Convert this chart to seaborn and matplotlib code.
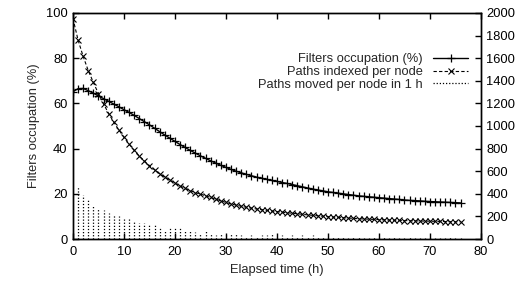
import numpy as np
import pandas as pd
import matplotlib
matplotlib.use("Agg")
import matplotlib.pyplot as plt
import seaborn as sns

# elapsed time in hours, one sample per hour
hours = list(range(0, 77))

# filters occupation (%), left axis
filters_occupation = [
    65.2, 66.5, 66.6, 65.6, 64.5, 63.3, 62.1, 60.9, 59.7, 58.5,
    57.2, 56.0, 54.7, 53.3, 51.9, 50.5, 49.0, 47.5, 46.0, 44.6,
    43.2, 41.8, 40.5, 39.2, 38.0, 36.8, 35.7, 34.6, 33.6, 32.6,
    31.7, 30.8, 30.0, 29.3, 28.6, 28.0, 27.4, 26.9, 26.4, 25.9,
    25.5, 25.0, 24.6, 24.1, 23.6, 23.1, 22.6, 22.1, 21.7, 21.3,
    20.9, 20.6, 20.3, 20.0, 19.7, 19.4, 19.1, 18.9, 18.7, 18.5,
    18.3, 18.1, 17.9, 17.7, 17.5, 17.3, 17.1, 17.0, 16.9, 16.7,
    16.6, 16.5, 16.4, 16.3, 16.2, 16.1, 16.0,
]

# paths indexed per node, right axis
paths_indexed = [
    1950, 1760, 1615, 1490, 1385, 1285, 1195, 1110, 1035, 965,
    900, 840, 785, 735, 690, 650, 612, 578, 548, 520,
    494, 470, 448, 428, 410, 398, 383, 368, 353, 338,
    324, 311, 300, 290, 281, 273, 266, 260, 254, 248,
    243, 238, 233, 228, 224, 219, 214, 210, 206, 202,
    198, 195, 192, 189, 186, 183, 180, 178, 176, 174,
    172, 170, 168, 167, 165, 164, 162, 161, 160, 159,
    158, 157, 156, 155, 154, 153, 152,
]

# paths moved per node in 1 h (impulses), right axis
moved_hours = list(range(1, 77))
paths_moved = [
    465, 390, 345, 300, 272, 256, 234, 220, 204, 182,
    180, 154, 138, 138, 134, 124, 104, 80, 94, 96,
    94, 80, 80, 64, 56, 72, 56, 40, 52, 36,
    44, 48, 40, 28, 36, 20, 32, 40, 44, 24,
    36, 20, 32, 28, 36, 24, 32, 20, 16, 24,
    20, 16, 28, 12, 20, 16, 12, 8, 20, 12,
    16, 8, 16, 12, 8, 20, 12, 8, 12, 16,
    8, 12, 8, 16, 12, 8,
]

df = pd.DataFrame({"hours": hours,
                   "filters": filters_occupation,
                   "indexed": paths_indexed})

sns.set_style("ticks")
plt.rcParams["font.family"] = ["Liberation Sans", "DejaVu Sans"]
plt.rcParams["font.size"] = 9.3

fig = plt.figure(figsize=(5.25, 2.87), dpi=100)
ax = fig.add_axes([0.139, 0.167, 0.777, 0.788])
ax2 = ax.twinx()

sns.lineplot(data=df, x="hours", y="filters", ax=ax, color="black",
             marker="+", markersize=6, markeredgewidth=0.9,
             markeredgecolor="black", linewidth=1.0,
             label="Filters occupation (%)", legend=False)

sns.lineplot(data=df, x="hours", y="indexed", ax=ax2, color="black",
             marker="x", markersize=4.5, markeredgewidth=0.8,
             markeredgecolor="black", linewidth=0.8, linestyle=(0, (3, 2)),
             label="Paths indexed per node", legend=False)

ax2.vlines(moved_hours, 0, paths_moved, colors="black", linewidth=0.9,
           linestyles=(0, (1, 1.5)), label="Paths moved per node in 1 h")

ax.set_xlim(0, 80)
ax.set_ylim(0, 100)
ax2.set_ylim(0, 2000)
ax.set_xticks(range(0, 81, 10))
ax.set_yticks(range(0, 101, 20))
ax2.set_yticks(range(0, 2001, 200))

ax.set_xlabel("Elapsed time (h)")
ax.set_ylabel("Filters occupation (%)")
ax2.set_ylabel("")

for a in (ax, ax2):
    for s in a.spines.values():
        s.set_visible(True)
        s.set_linewidth(1.0)
        s.set_color("black")
ax.tick_params(axis="x", direction="in", length=4.5, width=1.0, top=True,
               pad=5, colors="black")
ax.tick_params(axis="y", direction="in", length=4.5, width=1.0, right=False,
               pad=4, colors="black")
ax2.tick_params(axis="y", direction="in", length=4.5, width=1.0, pad=4,
                colors="black")

h1, l1 = ax.get_legend_handles_labels()
h2, l2 = ax2.get_legend_handles_labels()
leg = ax2.legend(h1 + h2, l1 + l2, loc="upper right",
                 bbox_to_anchor=(0.985, 0.85), frameon=False,
                 markerfirst=False, handlelength=2.7, handletextpad=0.8,
                 labelspacing=0.05, borderpad=0, fontsize=9.3,
                 handleheight=0.6)

fig.savefig("out.png", dpi=100)
